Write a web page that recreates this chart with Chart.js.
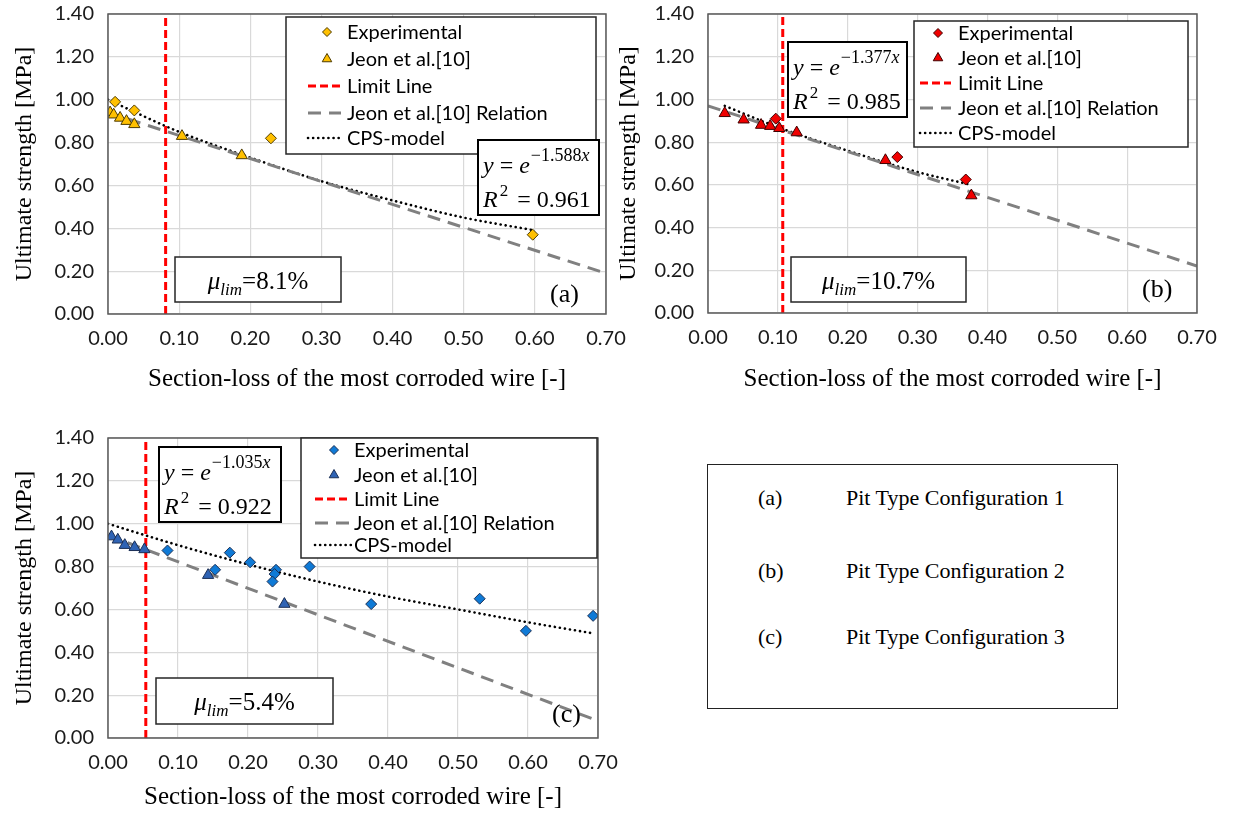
<!DOCTYPE html>
<html>
<head>
<meta charset="utf-8">
<script src="https://cdn.jsdelivr.net/npm/chart.js@4.4.1/dist/chart.umd.min.js"></script>
<style>
  body { margin: 0; background: #fff; }
  #page { position: relative; width: 1237px; height: 816px; overflow: hidden; background: #fff; }
  .panel { position: absolute; }
  #key { position: absolute; left: 707px; top: 464px; width: 411px; height: 245px; box-sizing: border-box;
         border: 1.5px solid #222; font-family: "Liberation Serif", "Times New Roman", serif; font-size: 22px; color: #000; }
  #key div { position: absolute; white-space: nowrap; line-height: 24px; }
</style>
</head>
<body>
<div id="page">
  <div class="panel" style="left:0;top:0"><canvas id="chartA" width="628" height="400"></canvas></div>
  <div class="panel" style="left:610px;top:0"><canvas id="chartB" width="609" height="400"></canvas></div>
  <div class="panel" style="left:0;top:400px"><canvas id="chartC" width="620" height="416"></canvas></div>
  <div id="key">
    <div style="left:50px;top:21px">(a)</div><div style="left:138px;top:21px">Pit Type Configuration 1</div>
    <div style="left:50px;top:94px">(b)</div><div style="left:138px;top:94px">Pit Type Configuration 2</div>
    <div style="left:50px;top:160px">(c)</div><div style="left:138px;top:160px">Pit Type Configuration 3</div>
  </div>
</div>
<script>
// axis ticks
const xTicks = [0, 0.1, 0.2, 0.3, 0.4, 0.5, 0.6, 0.7];
const yTicks = [0, 0.2, 0.4, 0.6, 0.8, 1.0, 1.2, 1.4];
const seriesNames = ["Experimental", "Jeon et al.[10]", "Limit Line", "Jeon et al.[10] Relation", "CPS-model"];

// (a) Pit Type Configuration 1
const expA_x = [0.010, 0.037, 0.229, 0.597];
const expA_y = [0.99, 0.95, 0.82, 0.37];
const jeonA_x = [0.003, 0.008, 0.017, 0.026, 0.037, 0.104, 0.188];
const jeonA_y = [0.94, 0.93, 0.915, 0.90, 0.885, 0.83, 0.74];
const relA_x = [0, 0.70];
const relA_y = [0.94, 0.19];
const cpsA_x = [0, 0.1, 0.2, 0.3, 0.4, 0.5, 0.6];
const cpsA_y = [1.00, 0.85, 0.73, 0.62, 0.53, 0.45, 0.39];
const limitA = 0.081;
const eqA = ["1.588", "0.961", "8.1%"];

// (b) Pit Type Configuration 2
const expB_x = [0.097, 0.271, 0.369];
const expB_y = [0.91, 0.73, 0.625];
const jeonB_x = [0.024, 0.051, 0.076, 0.089, 0.102, 0.127, 0.254, 0.377];
const jeonB_y = [0.935, 0.905, 0.88, 0.875, 0.865, 0.845, 0.715, 0.55];
const relB_x = [0, 0.70];
const relB_y = [0.97, 0.22];
const cpsB_x = [0.024, 0.1, 0.2, 0.3, 0.377];
const cpsB_y = [0.97, 0.87, 0.76, 0.66, 0.60];
const limitB = 0.107;
const eqB = ["1.377", "0.985", "10.7%"];

// (c) Pit Type Configuration 3
const expC_x = [0.085, 0.153, 0.174, 0.203, 0.240, 0.238, 0.235, 0.288, 0.376, 0.531, 0.597, 0.693];
const expC_y = [0.875, 0.785, 0.865, 0.82, 0.785, 0.765, 0.73, 0.80, 0.625, 0.65, 0.50, 0.57];
const jeonC_x = [0.005, 0.014, 0.024, 0.038, 0.052, 0.143, 0.252];
const jeonC_y = [0.94, 0.925, 0.90, 0.89, 0.88, 0.76, 0.625];
const relC_x = [0, 0.70];
const relC_y = [0.946, 0.08];
const cpsC_x = [0, 0.1, 0.2, 0.3, 0.4, 0.5, 0.6, 0.69];
const cpsC_y = [1.00, 0.90, 0.81, 0.73, 0.66, 0.60, 0.54, 0.49];
const limitC = 0.054;
const eqC = ["1.035", "0.922", "5.4%"];

const SERIF = '"Liberation Serif", "Times New Roman", serif';
const SANS = 'Lato, "Open Sans", sans-serif';

function pts(xs, ys) {
    return xs.map((x, i) => ({ x: x, y: ys[i] }));
}

function drawRuns(ctx, runs, x, y, measureOnly) {
    let w = 0;
    for (const r of runs) {
        ctx.font = (r.it ? "italic " : "") + r.size + "px " + SERIF;
        if (!measureOnly) ctx.fillText(r.t, x + w, y + (r.dy || 0));
        w += ctx.measureText(r.t).width + (r.gap || 0);
    }
    return w;
}

// boxes, legend and labels drawn over the plot area
const decor = {
    id: "decor",
    afterDatasetsDraw(chart, args, o) {
        const ctx = chart.ctx;
        const a = chart.chartArea;
        ctx.save();

        // plot frame
        ctx.strokeStyle = "#595959";
        ctx.lineWidth = 1.5;
        ctx.strokeRect(a.left, a.top, a.right - a.left, a.bottom - a.top);

        // legend
        const L = o.legend;
        const lx = a.left + L.x, ly = a.top + L.y;
        ctx.fillStyle = "#fff";
        ctx.fillRect(lx, ly, L.w, L.h);
        ctx.strokeStyle = "#262626";
        ctx.lineWidth = 1.5;
        ctx.strokeRect(lx, ly, L.w, L.h);
        chart.data.datasets.forEach((ds, i) => {
            const cy = ly + L.rows[i];
            if (!ds.showLine) {
                ctx.fillStyle = ds.backgroundColor;
                ctx.strokeStyle = ds.borderColor;
                ctx.lineWidth = 1;
                Chart.helpers.drawPoint(ctx, {
                    pointStyle: ds.pointStyle,
                    radius: ds.pointStyle === "triangle" ? 5.5 : 4.5,
                    rotation: 0,
                    borderWidth: 1
                }, lx + L.mark, cy);
            } else {
                ctx.save();
                ctx.strokeStyle = ds.borderColor;
                ctx.lineWidth = ds.borderWidth;
                ctx.lineCap = ds.borderCapStyle || "butt";
                ctx.setLineDash(ds.borderDash || []);
                ctx.beginPath();
                ctx.moveTo(lx + L.line[0], cy);
                ctx.lineTo(lx + L.line[1], cy);
                ctx.stroke();
                ctx.restore();
            }
            ctx.fillStyle = "#000";
            ctx.font = "20px " + SANS;
            ctx.textBaseline = "middle";
            ctx.textAlign = "left";
            ctx.fillText(ds.label, lx + L.text, cy + 1);
        });

        // equation box
        const E = o.eq;
        const ex = a.left + E.x, ey = a.top + E.y;
        ctx.fillStyle = "#fff";
        ctx.fillRect(ex, ey, E.w, E.h);
        ctx.strokeStyle = "#000";
        ctx.lineWidth = 2;
        ctx.strokeRect(ex, ey, E.w, E.h);
        ctx.fillStyle = "#000";
        ctx.textBaseline = "alphabetic";
        drawRuns(ctx, [
            { t: "y", it: true, size: 24 },
            { t: " = ", size: 24 },
            { t: "e", it: true, size: 24, gap: 1 },
            { t: "\u2212" + o.text[0], size: 18, dy: -12 },
            { t: "x", it: true, size: 18, dy: -12 }
        ], ex + 5, ey + 33);
        drawRuns(ctx, [
            { t: "R", it: true, size: 24, gap: 2 },
            { t: "2", size: 17, dy: -11, gap: 3 },
            { t: " = " + o.text[1], size: 24 }
        ], ex + 5, ey + 67);

        // mu limit box
        const M = o.mu;
        const mx = a.left + M.x, my = a.top + M.y;
        ctx.fillStyle = "#fff";
        ctx.fillRect(mx, my, M.w, M.h);
        ctx.strokeStyle = "#262626";
        ctx.lineWidth = 1.5;
        ctx.strokeRect(mx, my, M.w, M.h);
        ctx.fillStyle = "#000";
        const muRuns = [
            { t: "\u03bc", it: true, size: 25 },
            { t: "lim", it: true, size: 17, dy: 6 },
            { t: "=" + o.text[2], size: 25 }
        ];
        const mw = drawRuns(ctx, muRuns, 0, 0, true);
        drawRuns(ctx, muRuns, mx + (M.w - mw) / 2, my + 32);

        // panel tag
        ctx.font = "26px " + SERIF;
        ctx.fillText(o.tag.t, a.left + o.tag.x, a.top + o.tag.y);
        ctx.restore();
    }
};

function makePanel(id, p) {
    const datasets = [
        { label: seriesNames[0], data: pts(p.expX, p.expY), showLine: false, pointStyle: "rectRot", pointRadius: 5.5,
          backgroundColor: p.fill, borderColor: p.edge, pointBorderWidth: 1 },
        { label: seriesNames[1], data: pts(p.jeonX, p.jeonY), showLine: false, pointStyle: "triangle", pointRadius: 6.5,
          backgroundColor: p.fill2, borderColor: p.edge, pointBorderWidth: 1 },
        { label: seriesNames[2], data: [{ x: p.limit, y: 0 }, { x: p.limit, y: 1.4 }], showLine: true,
          borderColor: "#ff0000", borderWidth: 3, borderDash: [8, 4], pointRadius: 0 },
        { label: seriesNames[3], data: pts(p.relX, p.relY), showLine: true,
          borderColor: "#808080", borderWidth: 3, borderDash: [13, 8], pointRadius: 0 },
        { label: seriesNames[4], data: pts(p.cpsX, p.cpsY), showLine: true, cubicInterpolationMode: "monotone",
          borderColor: "#000", borderWidth: 2.6, borderDash: [0.1, 5], borderCapStyle: "round", pointRadius: 0 }
    ];
    return new Chart(document.getElementById(id), {
        type: "scatter",
        data: { datasets: datasets },
        plugins: [decor],
        options: {
            responsive: false,
            animation: false,
            devicePixelRatio: 1,
            events: [],
            layout: { padding: { top: p.padTop, right: 22, left: 0, bottom: 0 } },
            plugins: {
                legend: { display: false },
                tooltip: { enabled: false },
                decor: p.decor
            },
            scales: {
                x: {
                    type: "linear", min: 0, max: 0.7,
                    afterFit: (s) => { s.height = p.axisH; s.paddingLeft = 0; s.paddingRight = 0; },
                    afterBuildTicks: (s) => { s.ticks = xTicks.map((v) => ({ value: v })); },
                    ticks: { callback: (v) => v.toFixed(2), padding: 13, color: "#1a1a1a", font: { family: SANS, size: 20 } },
                    grid: { color: "#d9d9d9", lineWidth: 1.2, drawTicks: false },
                    border: { display: false },
                    title: { display: true, text: "Section-loss of the most corroded wire [-]", color: "#000",
                             font: { family: SERIF, size: 25 }, padding: { top: 0, bottom: p.xTitlePad } }
                },
                y: {
                    type: "linear", min: 0, max: 1.4,
                    afterFit: (s) => { s.width = p.axisW; s.paddingTop = 0; s.paddingBottom = 0; },
                    afterBuildTicks: (s) => { s.ticks = yTicks.map((v) => ({ value: v })); },
                    ticks: { callback: (v) => v.toFixed(2), padding: 14, color: "#1a1a1a", font: { family: SANS, size: 20 } },
                    grid: { color: "#d9d9d9", lineWidth: 1.2, drawTicks: false },
                    border: { display: false },
                    title: { display: true, text: "Ultimate strength [MPa]", color: "#000",
                             font: { family: SERIF, size: 24 }, padding: { top: p.yTitlePad, bottom: 0 } }
                }
            }
        }
    });
}

makePanel("chartA", {
    expX: expA_x, expY: expA_y, jeonX: jeonA_x, jeonY: jeonA_y, relX: relA_x, relY: relA_y,
    cpsX: cpsA_x, cpsY: cpsA_y, limit: limitA,
    fill: "#ffc000", fill2: "#ffc000", edge: "#4d3b00",
    padTop: 14, axisW: 108, axisH: 86, xTitlePad: 6, yTitlePad: 10,
    decor: {
        text: eqA,
        legend: { x: 178, y: 3, w: 310, h: 137, rows: [15, 42, 69, 96, 121], mark: 41, text: 61, line: [22, 55] },
        eq: { x: 370, y: 126, w: 121, h: 75 },
        mu: { x: 67, y: 243, w: 166, h: 45 },
        tag: { t: "(a)", x: 442, y: 288 }
    }
});

makePanel("chartB", {
    expX: expB_x, expY: expB_y, jeonX: jeonB_x, jeonY: jeonB_y, relX: relB_x, relY: relB_y,
    cpsX: cpsB_x, cpsY: cpsB_y, limit: limitB,
    fill: "#f00000", fill2: "#f00000", edge: "#400000",
    padTop: 14, axisW: 98, axisH: 87, xTitlePad: 6, yTitlePad: 4,
    decor: {
        text: eqB,
        legend: { x: 206, y: 7, w: 274, h: 126, rows: [12, 37, 62, 87, 112], mark: 24, text: 44, line: [6, 37] },
        eq: { x: 80, y: 28, w: 119, h: 75 },
        mu: { x: 83, y: 243, w: 175, h: 45 },
        tag: { t: "(b)", x: 434, y: 283 }
    }
});

makePanel("chartC", {
    expX: expC_x, expY: expC_y, jeonX: jeonC_x, jeonY: jeonC_y, relX: relC_x, relY: relC_y,
    cpsX: cpsC_x, cpsY: cpsC_y, limit: limitC,
    fill: "#0f7ad6", fill2: "#2f63b4", edge: "#1b2f55",
    padTop: 38, axisW: 108, axisH: 78, xTitlePad: 4, yTitlePad: 10,
    decor: {
        text: eqC,
        legend: { x: 193, y: 0, w: 296, h: 120, rows: [12, 37, 61, 85, 107], mark: 33, text: 53, line: [14, 50] },
        eq: { x: 51, y: 9, w: 122, h: 75 },
        mu: { x: 48, y: 240, w: 177, h: 46 },
        tag: { t: "(c)", x: 444, y: 284 }
    }
});
</script>
</body>
</html>
